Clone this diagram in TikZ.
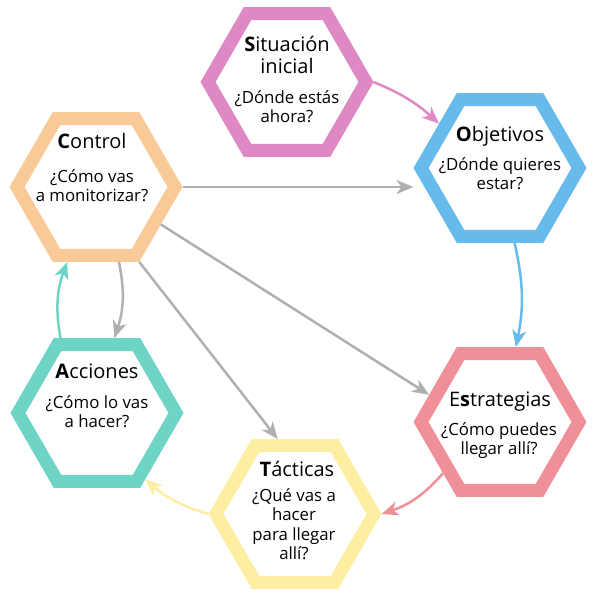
\documentclass[tikz,border=0pt]{standalone}
\usepackage{fontspec}
\setmainfont{Open Sans}
\usetikzlibrary{arrows.meta,shapes.geometric}
\definecolor{sitpink}{RGB}{222,137,196}
\definecolor{ctrlorange}{RGB}{249,201,151}
\definecolor{objblue}{RGB}{102,186,236}
\definecolor{accteal}{RGB}{110,213,198}
\definecolor{strred}{RGB}{239,144,152}
\definecolor{tacyellow}{RGB}{253,238,162}
\definecolor{linkgray}{RGB}{176,176,176}
\tikzset{
  hexa/.style={regular polygon, regular polygon sides=6, minimum size=158pt, inner sep=0pt, line width=13pt, fill=white},
  title/.style={anchor=base, align=center, font=\fontsize{20}{22}\selectfont},
  question/.style={anchor=base, align=center, font=\fontsize{16.8}{19.5}\selectfont},
  link/.style={line width=2.5pt, -{Stealth[length=17pt,width=14pt,inset=5pt]}},
}

\begin{document}
\begin{tikzpicture}[x=1pt, y=1pt]
  \useasboundingbox (0,0) rectangle (594,595);
  % hexagons
  \foreach \n/\x/\y/\c in {sit/287/513/sitpink, ctrl/96/408/ctrlorange, obj/500/427/objblue,
                           acc/97/182/accteal, str/500/173/strred, tac/295/81/tacyellow} {
    \node[hexa, draw=\c] (\n) at (\x,\y) {};
  }
  % texts (base = last line)
  \node[title] (sit-t) at (287,521) {\textbf{S}ituación\\inicial};
  \node[question] (sit-q) at (287,472) {¿Dónde estás\\ahora?};
  \node[title] (ctrl-t) at (92,446) {\textbf{C}ontrol};
  \node[question] (ctrl-q) at (92,393) {¿Cómo vas\\a monitorizar?};
  \node[title] (obj-t) at (500,453) {\textbf{O}bjetivos};
  \node[question] (obj-q) at (500,405) {¿Dónde quieres\\estar?};
  \node[title] (acc-t) at (97,216) {\textbf{A}cciones};
  \node[question] (acc-q) at (97,167) {¿Cómo lo vas\\a hacer?};
  \node[title] (str-t) at (500,188) {E\textbf{s}trategias};
  \node[question] (str-q) at (499,140) {¿Cómo puedes\\llegar allí?};
  \node[title] (tac-t) at (297,118) {\textbf{T}ácticas};
  \node[question] (tac-q) at (294,35) {¿Qué vas a\\hacer\\para llegar\\allí?};
  % connectors
  \draw[link, sitpink] (sit.east) to[bend left=10] (obj.144);
  \draw[link, objblue] (obj.-79) to[bend left=12] (str.78);
  \draw[link, strred] (str.222) to[bend left=15] (tac.east);
  \draw[link, tacyellow] (tac.west) to[bend left=12] (acc.-54);
  \draw[link, accteal] (acc.116) to[bend left=15] (ctrl.249);
  \draw[link, linkgray] (ctrl.-73) to[bend left=15] (acc.77);
  \draw[link, linkgray] (ctrl.east) -- (ctrl.east -| obj.west);
  \draw[link, linkgray] (ctrl.-30) -- (str.159);
  \draw[link, linkgray] (ctrl.-60) -- (tac.103);
\end{tikzpicture}
\end{document}
